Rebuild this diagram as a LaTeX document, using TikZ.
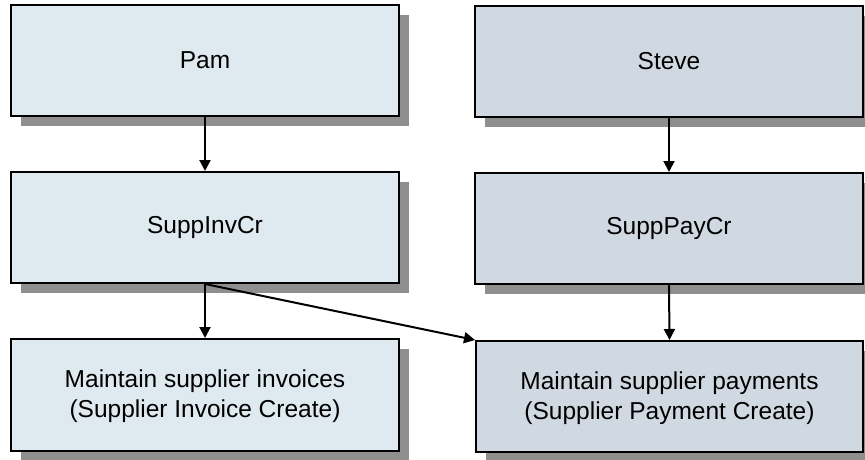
\documentclass[tikz,border=0pt]{standalone}
\usepackage{fontspec}
\setmainfont{Liberation Sans}
\usetikzlibrary{arrows.meta,shadows}
\definecolor{leftfill}{HTML}{DFE9F0}
\definecolor{rightfill}{HTML}{D0D9E1}
\definecolor{shadowgray}{HTML}{8F8F8F}
\begin{document}
\begin{tikzpicture}[x=1pt,y=-1pt,
  box/.style={draw=black, line width=2pt, minimum width=388pt, minimum height=111pt,
    inner sep=0pt, align=center, font=\fontsize{24.5}{30}\selectfont,
    drop shadow={shadow xshift=10pt, shadow yshift=-10pt, fill=shadowgray, opacity=1, draw=none}},
  lbox/.style={box, fill=leftfill},
  rbox/.style={box, fill=rightfill},
  conn/.style={draw=black, line width=2pt, -{Triangle[length=11pt,width=11pt]}}
]
\useasboundingbox (0,0) rectangle (865,460);
\node[lbox] (pam) at (205,60.5) {Pam};
\node[rbox] (steve) at (669,61.5) {Steve};
\node[lbox] (inv) at (205,227.5) {SuppInvCr};
\node[rbox] (pay) at (669,228.5) {SuppPayCr};
\node[lbox, minimum height=112pt] (minv) at (205,395) {\strut Maintain supplier invoices\\(Supplier Invoice Create)};
\node[rbox, minimum width=387pt] (mpay) at (669.5,396.5) {\strut Maintain supplier payments\\(Supplier Payment Create)};
\draw[conn] (pam.south) -- (inv.north);
\draw[conn] (steve.south) -- (pay.north);
\draw[conn] (inv.south) -- (minv.north);
\draw[conn] (pay.south) -- (mpay.north);
\draw[conn] (inv.south) -- (mpay.north west);
\end{tikzpicture}
\end{document}
